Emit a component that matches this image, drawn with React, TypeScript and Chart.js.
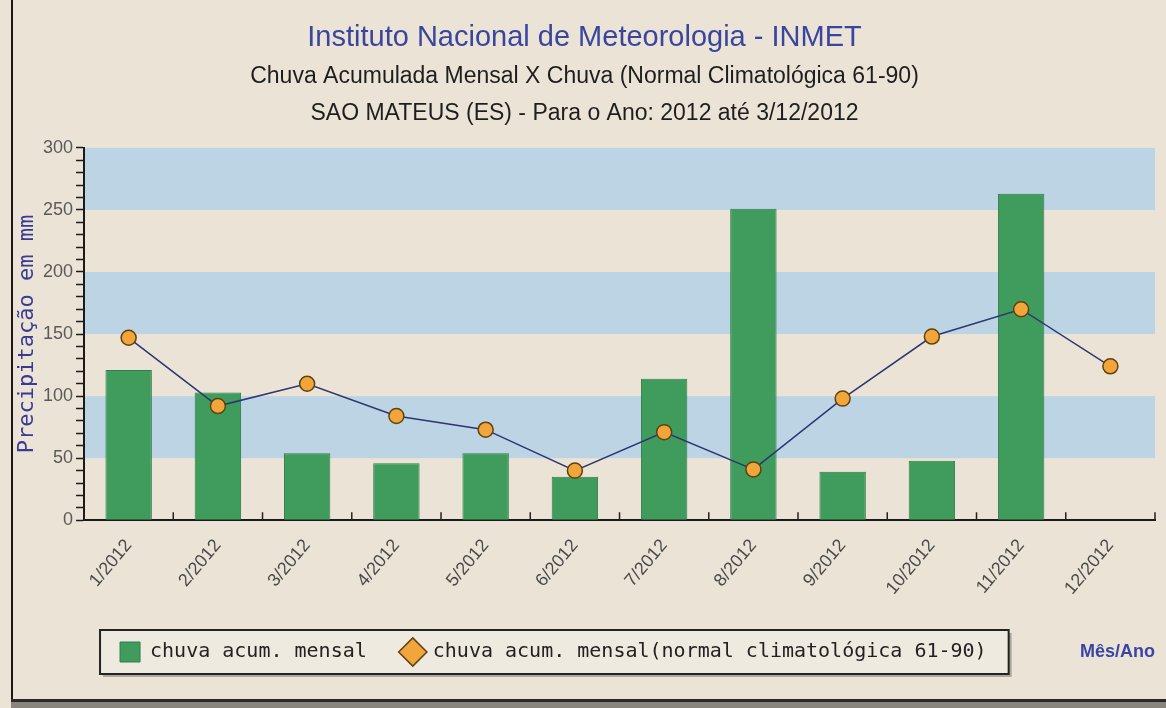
import React, { useEffect, useRef } from "react";
import { Chart, registerables } from "chart.js";

Chart.register(...registerables);

const months = [
  "1/2012", "2/2012", "3/2012", "4/2012", "5/2012", "6/2012",
  "7/2012", "8/2012", "9/2012", "10/2012", "11/2012", "12/2012",
];
const monthlyRain = [121, 103, 54, 46, 54, 35, 114, 251, 39, 48, 263, 0];
const normalRain = [147, 92, 110, 84, 73, 40, 71, 41, 98, 148, 170, 124];
const blueBands = [
  [50, 100],
  [150, 200],
  [250, 300],
];
const titleText = "Instituto Nacional de Meteorologia - INMET";
const subtitleLines = [
  "Chuva Acumulada Mensal X Chuva (Normal Climatológica 61-90)",
  "SAO MATEUS (ES) - Para o Ano: 2012 até 3/12/2012",
];
const seriesNames = [
  "chuva acum. mensal",
  "chuva acum. mensal(normal climatológica 61-90)",
];
const yTitle = "Precipitação em mm";
const xTitle = "Mês/Ano";

const PAGE_BG = "#ebe4d6";
const BLUE_BAND = "#bdd4e5";
const GREEN = "#3f9c5c";
const ORANGE = "#f2a53a";
const SANS = "'Liberation Sans', Arial, sans-serif";
const MONO = "'DejaVu Sans Mono', 'Liberation Mono', monospace";

const bandsPlugin = {
  id: "bands",
  beforeDraw(chart: any) {
    const { ctx, chartArea: a, scales } = chart;
    const y = scales.y;
    ctx.save();
    ctx.fillStyle = BLUE_BAND;
    for (const [lo, hi] of blueBands) {
      const t = y.getPixelForValue(hi);
      const b = y.getPixelForValue(lo);
      ctx.fillRect(a.left, t, a.width, b - t);
    }
    // legend frame
    const lg = chart.legend;
    if (lg && lg.legendHitBoxes && lg.legendHitBoxes.length) {
      const hb = lg.legendHitBoxes;
      const first = hb[0];
      const last = hb[hb.length - 1];
      const cy = first.top + first.height / 2;
      const l = first.left - 20;
      const r = last.left + last.width + 22;
      const t = cy - 22;
      const h = 44;
      ctx.fillStyle = "rgba(60,55,45,0.35)";
      ctx.fillRect(l + 3, t + 3, r - l, h);
      ctx.fillStyle = "#efeadf";
      ctx.fillRect(l, t, r - l, h);
      ctx.strokeStyle = "#222";
      ctx.lineWidth = 2;
      ctx.strokeRect(l, t, r - l, h);
      // axis title at right of legend
      ctx.fillStyle = "#3b45a5";
      ctx.font = `600 18px ${SANS}`;
      ctx.textAlign = "right";
      ctx.textBaseline = "middle";
      ctx.fillText(xTitle, a.right, cy);
    }
    ctx.restore();
  },
  afterDraw(chart: any) {
    const { ctx, chartArea: a, scales } = chart;
    const x = scales.x;
    ctx.save();
    ctx.strokeStyle = "#222";
    ctx.lineWidth = 1.5;
    for (let i = 0; i <= months.length; i++) {
      const px = x.getPixelForValue(i - 0.5);
      ctx.beginPath();
      ctx.moveTo(px, a.bottom);
      ctx.lineTo(px, a.bottom - 8);
      ctx.stroke();
    }
    ctx.restore();
  },
};

export default function App() {
  const canvasRef = useRef<HTMLCanvasElement | null>(null);

  useEffect(() => {
    if (!canvasRef.current) return;
    const chart = new Chart(canvasRef.current, {
      type: "bar",
      data: {
        labels: months,
        datasets: [
          {
            type: "line",
            label: seriesNames[1],
            data: normalRain,
            borderColor: "#2d3670",
            borderWidth: 1.5,
            backgroundColor: ORANGE,
            pointBackgroundColor: ORANGE,
            pointBorderColor: "#5e4210",
            pointBorderWidth: 1.5,
            pointRadius: 7.5,
            pointStyle: "circle",
            order: 0,
          } as any,
          {
            type: "bar",
            label: seriesNames[0],
            data: monthlyRain,
            backgroundColor: GREEN,
            borderColor: "#2f7d48",
            borderWidth: 1,
            barPercentage: 0.52,
            categoryPercentage: 1,
            order: 1,
          } as any,
        ],
      },
      options: {
        animation: false,
        responsive: false,
        maintainAspectRatio: false,
        layout: { padding: { left: 0, right: 11, top: 0, bottom: 24 } },
        plugins: {
          tooltip: { enabled: false },
          title: {
            display: true,
            text: titleText,
            color: "#3a469e",
            font: { family: SANS, size: 29, weight: "normal" },
            padding: { top: 21, bottom: 0 },
          },
          subtitle: {
            display: true,
            text: subtitleLines,
            color: "#1e1e1e",
            font: { family: SANS, size: 23, lineHeight: 1.61 },
            padding: { top: 2, bottom: 16 },
          },
          legend: {
            display: true,
            position: "bottom",
            align: "start",
            fullSize: false,
            reverse: true,
            labels: {
              usePointStyle: true,
              padding: 36,
              color: "#222",
              font: { family: MONO, size: 20 },
              generateLabels(chart: any) {
                const items = Chart.defaults.plugins.legend.labels.generateLabels(chart);
                return items.map((it: any) => {
                  if (it.datasetIndex === 1) {
                    return { ...it, pointStyle: "rect", fillStyle: GREEN, strokeStyle: "#2f7d48", lineWidth: 1 };
                  }
                  return { ...it, pointStyle: "rectRot", fillStyle: ORANGE, strokeStyle: "#5e4210", lineWidth: 1.5 };
                });
              },
            },
          },
        },
        scales: {
          x: {
            offset: true,
            grid: { display: false, offset: true },
            border: { display: true, color: "#1a1a1a", width: 2 },
            ticks: {
              color: "#4a4a4a",
              font: { family: SANS, size: 18 },
              minRotation: 50,
              maxRotation: 50,
              padding: 7,
              autoSkip: false,
            },
          },
          y: {
            min: 0,
            max: 300,
            grid: {
              display: true,
              drawOnChartArea: false,
              drawTicks: true,
              tickLength: 8,
              tickColor: "#1a1a1a",
              tickWidth: 1.5,
            },
            border: { display: true, color: "#1a1a1a", width: 2 },
            ticks: {
              stepSize: 10,
              autoSkip: false,
              color: "#5a5a5a",
              font: { family: SANS, size: 18 },
              padding: 3,
              callback: (v: any) => (Number(v) % 50 === 0 ? String(v) : ""),
            },
            title: {
              display: true,
              text: yTitle,
              color: "#3a3a92",
              font: { family: MONO, size: 22, lineHeight: 1 },
              padding: { top: 2, bottom: 2 },
            },
          },
        },
      },
      plugins: [bandsPlugin],
    });
    return () => chart.destroy();
  }, []);

  return (
    <div
      style={{
        position: "fixed",
        left: 0,
        top: 0,
        width: 1166,
        height: 708,
        background: PAGE_BG,
        overflow: "hidden",
      }}
    >
      <div style={{ position: "absolute", left: 11, top: 0, width: 2, height: 700, background: "#1a1a1a" }} />
      <div style={{ position: "absolute", left: 11, top: 699, width: 1155, height: 3, background: "#2a2a2a" }} />
      <div style={{ position: "absolute", left: 11, top: 702, width: 1155, height: 6, background: "#8a857c" }} />
      <canvas
        ref={canvasRef}
        width={1152}
        height={696}
        style={{ position: "absolute", left: 14, top: 0, width: 1152, height: 696 }}
      />
    </div>
  );
}
